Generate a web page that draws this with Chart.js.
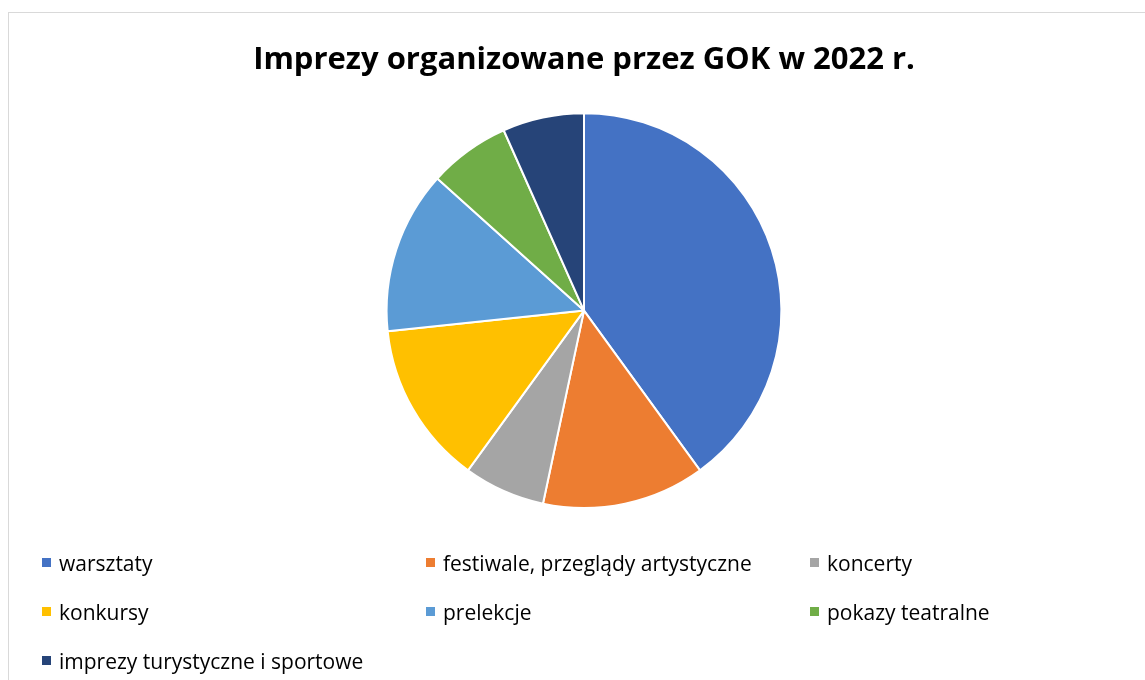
<!DOCTYPE html>
<html lang="pl">
<head>
<meta charset="utf-8">
<title>Imprezy organizowane przez GOK w 2022 r.</title>
<script src="https://cdn.jsdelivr.net/npm/chart.js@4.4.1/dist/chart.umd.min.js"></script>
<style>
    html, body {
        margin: 0;
        padding: 0;
        width: 1145px;
        height: 680px;
        overflow: hidden;
        background: #fff;
        font-family: "Open Sans", "Liberation Sans", sans-serif;
    }
    .frame {
        position: absolute;
        left: 8px;
        top: 12px;
        width: 1160px;
        height: 700px;
        border: 1px solid #d9d9d9;
        box-sizing: border-box;
    }
    .chart-box {
        position: absolute;
        left: 0;
        top: 0;
        width: 1145px;
        height: 680px;
    }
    .legend {
        position: absolute;
        left: 42px;
        top: 538px;
        display: grid;
        grid-template-columns: 384px 384px 330px;
        grid-auto-rows: 49px;
        font-size: 21px;
        color: #000;
    }
    .legend-item {
        display: flex;
        align-items: center;
        height: 49px;
        white-space: nowrap;
    }
    .legend-swatch {
        width: 9px;
        height: 9px;
        margin-right: 8px;
        flex: none;
    }
</style>
</head>
<body>
<div class="frame"></div>
<div class="chart-box">
    <canvas id="pie-chart" width="1145" height="680"></canvas>
</div>
<div class="legend" id="legend"></div>

<script>
// ---- DATA ----
const chartTitle = 'Imprezy organizowane przez GOK w 2022 r.';
const categories = [
    'warsztaty',
    'festiwale, przeglądy artystyczne',
    'koncerty',
    'konkursy',
    'prelekcje',
    'pokazy teatralne',
    'imprezy turystyczne i sportowe'
];
const eventCounts = [6, 2, 1, 2, 2, 1, 1];
const sliceColors = ['#4472C4', '#ED7D31', '#A5A5A5', '#FFC000', '#5B9BD5', '#70AD47', '#264478'];

// Pie chart
const pieCtx = document.getElementById('pie-chart');
new Chart(pieCtx, {
    type: 'pie',
    data: {
        labels: categories,
        datasets: [{
            data: eventCounts,
            backgroundColor: sliceColors,
            borderColor: '#ffffff',
            borderWidth: 2
        }]
    },
    options: {
        responsive: false,
        animation: false,
        layout: {
            padding: { left: 23, right: 0, top: 0, bottom: 171 }
        },
        plugins: {
            legend: { display: false },
            tooltip: { enabled: false },
            title: {
                display: true,
                text: chartTitle,
                color: '#000',
                font: { family: '"Open Sans", sans-serif', size: 31, weight: 'bold' },
                padding: { top: 42, bottom: 33 }
            }
        }
    }
});

// Legend in three columns, like the original
const legendEl = document.getElementById('legend');
categories.forEach((name, i) => {
    const item = document.createElement('div');
    item.className = 'legend-item';
    item.innerHTML = `<span class="legend-swatch" style="background:${sliceColors[i]}"></span><span>${name}</span>`;
    legendEl.appendChild(item);
});
</script>
</body>
</html>
